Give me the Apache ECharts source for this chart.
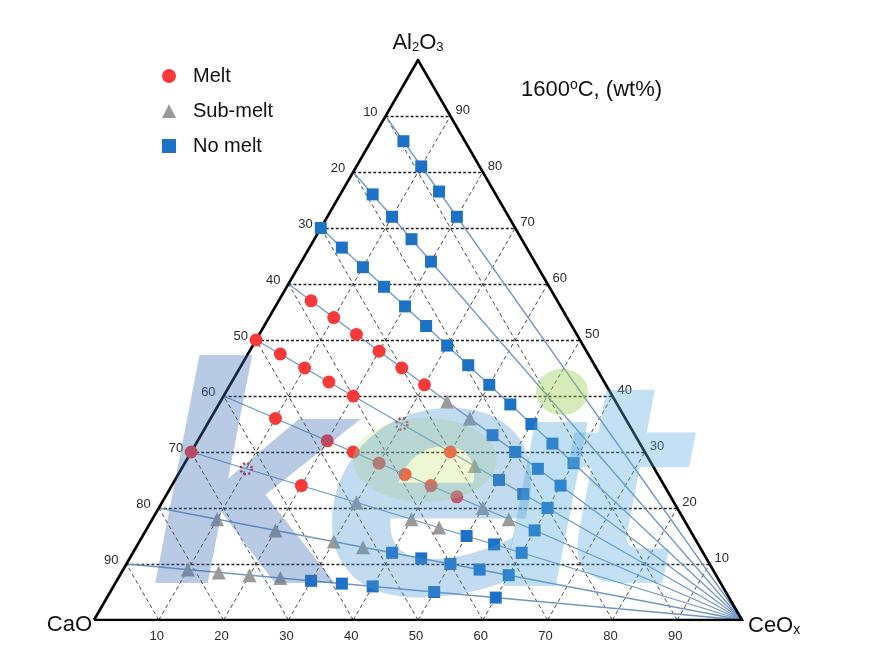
<!DOCTYPE html>
<html><head><meta charset="utf-8">
<script src="https://cdn.jsdelivr.net/npm/echarts@6/dist/echarts.min.js"></script>
<style>html,body{margin:0;padding:0;background:#fff}#c{width:879px;height:654px}</style>
</head><body><div id="c"></div>
<script>
// ---- data: compositions as [CaO, Al2O3, CeOx] in wt% ----
const tickValues = [10, 20, 30, 40, 50, 60, 70, 80, 90];
const rayStartAl2O3 = [90, 80, 70, 60, 50, 40, 30, 20, 10];

const melt = [
  [38, 57, 5], [36, 54, 10], [34, 51, 15], [32, 48, 20], [30, 45, 25], [28, 42, 30],
  [50, 50, 0], [47.5, 47.5, 5], [45, 45, 10], [42.5, 42.5, 15], [40, 40, 20], [30, 30, 40],
  [54, 36, 10], [48, 32, 20], [45, 30, 25], [42, 28, 30], [39, 26, 35], [36, 24, 40], [33, 22, 45],
  [70, 30, 0], [56, 24, 20]
];
const partialMelt = [[35, 35, 30], [63, 27, 10]];
const subMelt = [
  [26, 39, 35], [24, 36, 40],
  [27.5, 27.5, 45],
  [30, 20, 50], [27, 18, 55],
  [49, 21, 30], [42, 18, 40], [38.5, 16.5, 45],
  [72, 18, 10], [64, 16, 20], [56, 14, 30], [52, 13, 35],
  [81, 9, 10], [76.5, 8.5, 15], [72, 8, 20], [67.5, 7.5, 25]
];
const noMelt = [
  [9.5, 85.5, 5], [9, 81, 10], [8.5, 76.5, 15], [8, 72, 20],
  [19, 76, 5], [18, 72, 10], [17, 68, 15], [16, 64, 20],
  [30, 70, 0], [28.5, 66.5, 5], [27, 63, 10], [25.5, 59.5, 15], [24, 56, 20], [22.5, 52.5, 25],
  [21, 49, 30], [19.5, 45.5, 35], [18, 42, 40], [16.5, 38.5, 45], [15, 35, 50], [13.5, 31.5, 55], [12, 28, 60],
  [22, 33, 45], [20, 30, 50], [18, 27, 55], [16, 24, 60],
  [25, 25, 50], [22.5, 22.5, 55], [20, 20, 60],
  [24, 16, 60],
  [35, 15, 50], [31.5, 13.5, 55], [28, 12, 60],
  [48, 12, 40], [44, 11, 45], [40, 10, 50], [36, 9, 55], [32, 8, 60],
  [63, 7, 30], [58.5, 6.5, 35], [54, 6, 40], [45, 5, 50], [36, 4, 60]
];

// ---- ternary -> cartesian (CaO left, CeOx right, Al2O3 top) ----
const H = Math.sqrt(3) / 2;
function toXY(p) {
  const s = p[0] + p[1] + p[2];
  const a = p[1] / s * 100, c = p[2] / s * 100;
  return [c + a / 2, a * H];
}

const hLines = [], dLines = [];
tickValues.forEach(t => {
  hLines.push({ coords: [toXY([100 - t, t, 0]), toXY([0, t, 100 - t])] });
  dLines.push({ coords: [toXY([100 - t, 0, t]), toXY([0, 100 - t, t])] });
  dLines.push({ coords: [toXY([t, 0, 100 - t]), toXY([t, 100 - t, 0])] });
});
const rays = rayStartAl2O3.map(a => ({ coords: [toXY([100 - a, a, 0]), toXY([0, 0, 100])] }));
const edges = [{ coords: [toXY([100, 0, 0]), toXY([0, 100, 0]), toXY([0, 0, 100]), toXY([100, 0, 0])] }];

const FONT = '"Liberation Sans", Arial, sans-serif';
const tickLabel = (pos, dist, off) => ({
  show: true, position: pos, distance: dist, offset: off, formatter: '{b}',
  color: '#2a2a2a', fontSize: 13, fontFamily: FONT
});
const labelSeries = (data, lab) => ({
  type: 'scatter', data, symbolSize: 0, silent: true, z: 5, label: lab,
  itemStyle: { color: 'rgba(0,0,0,0)', opacity: 1 }
});
const WM = 'italic bold 300px "DejaVu Sans"';

const chart = echarts.init(document.getElementById('c'), null, { renderer: 'canvas' });
chart.setOption({
  animation: false,
  backgroundColor: '#fff',
  title: {
    text: '1600{sup|o}C, (wt%)', left: 516, top: 73,
    textStyle: {
      fontSize: 22, fontWeight: 'normal', color: '#111', fontFamily: FONT,
      rich: { sup: { fontSize: 14, padding: [0, 0, 10, 0], color: '#111', fontFamily: FONT } }
    }
  },
  legend: {
    orient: 'vertical', left: 157, top: 61, itemWidth: 14, itemHeight: 14, itemGap: 15,
    data: ['Melt', 'Sub-melt', 'No melt'],
    textStyle: { fontSize: 20, color: '#111', fontFamily: FONT, padding: [0, 0, 0, 12] }
  },
  grid: { left: 94, top: 60, width: 648, height: 560 },
  xAxis: { type: 'value', min: 0, max: 100, show: false },
  yAxis: { type: 'value', min: 0, max: 100 * H, show: false },
  series: [
    { type: 'lines', coordinateSystem: 'cartesian2d', data: dLines, silent: true, z: 1,
      lineStyle: { color: '#333', width: 0.9, type: [4, 3], opacity: 1 } },
    { type: 'lines', coordinateSystem: 'cartesian2d', data: hLines, silent: true, z: 1,
      lineStyle: { color: '#222', width: 1.3, type: [3, 2], opacity: 1 } },
    { type: 'lines', coordinateSystem: 'cartesian2d', data: rays, silent: true, z: 2,
      lineStyle: { color: '#7196c4', width: 1.3, opacity: 1 } },
    { type: 'lines', coordinateSystem: 'cartesian2d', polyline: true, data: edges, silent: true, z: 3,
      lineStyle: { color: '#000', width: 2.6, opacity: 1 } },
    { name: 'Melt', type: 'scatter', data: melt.map(toXY), symbol: 'circle', symbolSize: 13, z: 4,
      itemStyle: { color: '#f63a3a', opacity: 1 } },
    { name: 'Sub-melt', type: 'scatter', data: subMelt.map(toXY), symbol: 'triangle', symbolSize: 14, z: 4,
      itemStyle: { color: '#9a9a9a', opacity: 1 } },
    { name: 'No melt', type: 'scatter', data: noMelt.map(toXY), symbol: 'rect', symbolSize: 12, z: 4,
      itemStyle: { color: '#1d72c6', opacity: 1 } },
    { name: 'partial', type: 'scatter', data: partialMelt.map(toXY), symbol: 'circle', symbolSize: 11, z: 4,
      itemStyle: { color: 'rgba(0,0,0,0)', opacity: 1, borderColor: '#d8263a', borderWidth: 2.6, borderType: [2, 2.4] } },
    labelSeries(tickValues.map(t => ({ name: String(t), value: toXY([t, 100 - t, 0]) })), tickLabel('left', 8, [0, -4])),
    labelSeries(tickValues.map(t => ({ name: String(t), value: toXY([0, t, 100 - t]) })), tickLabel('right', 5, [0, -6])),
    labelSeries(tickValues.map(t => ({ name: String(t), value: toXY([100 - t, 0, t]) })), tickLabel('bottom', 10, [-2, 0])),
    labelSeries([{ name: 'Al2O3', value: toXY([0, 100, 0]) }], {
      show: true, position: 'top', distance: 6, formatter: 'Al{s|2}O{s|3}', color: '#111', fontSize: 22, fontFamily: FONT,
      rich: { s: { fontSize: 13, padding: [8, 0, 0, 0], color: '#111', fontFamily: FONT } }
    }),
    labelSeries([{ name: 'CaO', value: toXY([100, 0, 0]) }], {
      show: true, position: 'left', distance: 2, offset: [0, 5], formatter: 'CaO', color: '#111', fontSize: 22, fontFamily: FONT
    }),
    labelSeries([{ name: 'CeOx', value: toXY([0, 0, 100]) }], {
      show: true, position: 'right', distance: 6, offset: [0, 6], formatter: 'CeO{s|x}', color: '#111', fontSize: 22, fontFamily: FONT,
      rich: { s: { fontSize: 14, padding: [8, 0, 0, 0], color: '#111', fontFamily: FONT } }
    })
  ],
  graphic: [
    { type: 'text', x: 146, y: 355, z: 100, silent: true,
      style: { text: 'k', font: WM, fill: 'rgba(60,110,180,0.36)' } },
    { type: 'ellipse', z: 99, silent: true, shape: { cx: 425, cy: 460, rx: 72, ry: 42 },
      style: { fill: 'rgba(200,228,110,0.30)' } },
    { type: 'text', x: 320, y: 342, z: 100, silent: true,
      style: { text: 'e', font: 'italic bold 330px "DejaVu Sans"', fill: 'rgba(80,150,210,0.34)' } },
    { type: 'text', x: 494, y: 358, z: 100, silent: true,
      style: { text: 'ı', font: WM, fill: 'rgba(80,165,222,0.36)' } },
    { type: 'ellipse', z: 100, silent: true, shape: { cx: 562, cy: 392, rx: 26, ry: 23 },
      style: { fill: 'rgba(160,205,90,0.42)' } },
    { type: 'text', x: 556, y: 374, z: 100, silent: true,
      style: { text: 't', font: 'italic bold 275px "DejaVu Sans"', fill: 'rgba(90,170,225,0.36)' } }
  ]
});
</script></body></html>
